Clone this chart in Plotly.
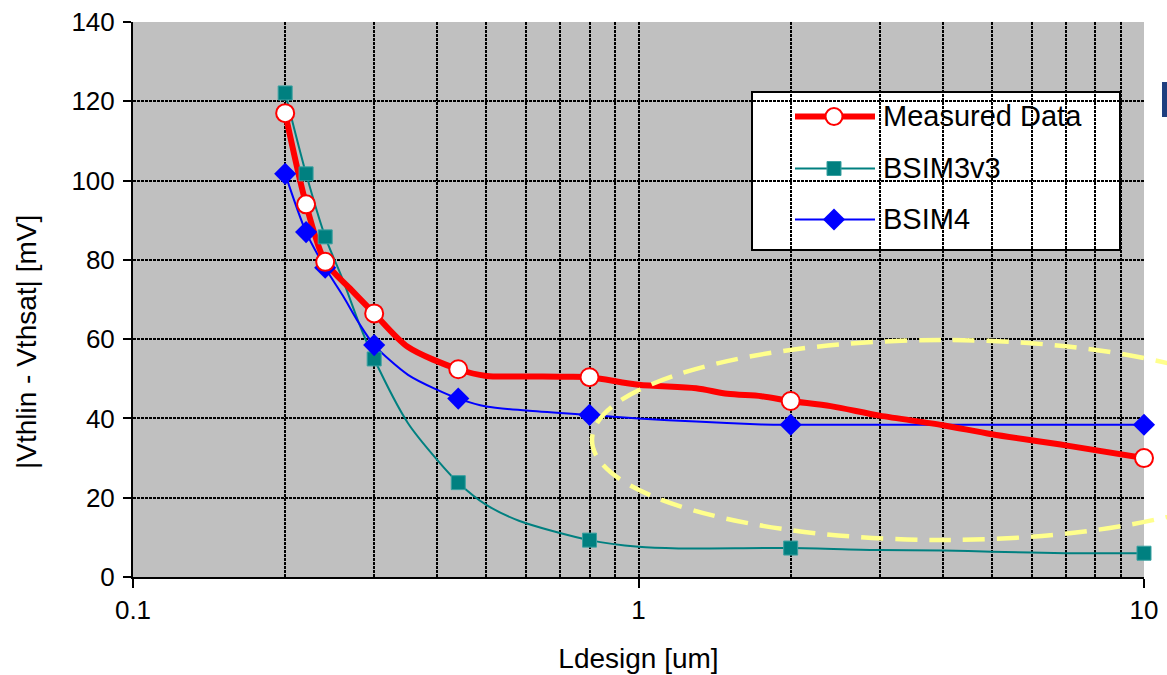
import plotly.graph_objects as go

# ---------------- data ----------------
L_meas = [0.2, 0.22, 0.24, 0.27, 0.3, 0.35, 0.44, 0.5, 0.6, 0.7, 0.8, 1.0, 1.3, 1.5,
          1.75, 2, 2.4, 3, 4, 5, 7, 10]
measured = [117, 94, 79.5, 72.5, 66.5, 58, 52.4, 50.7, 50.6, 50.5, 50.4, 48.5, 47.6, 46.2,
            45.6, 44.4, 43.1, 40.7, 38.3, 36.0, 33.2, 30.0]

L_b3 = [0.2, 0.22, 0.24, 0.26, 0.28, 0.3, 0.35, 0.4, 0.44, 0.5, 0.58, 0.8, 1.0, 1.2,
        2, 3, 4, 5, 7, 10]
bsim3 = [122.1, 101.7, 85.8, 75, 64, 55, 38.8, 29.5, 23.8, 18.2, 14.2, 9.3, 7.6, 7.2,
         7.3, 6.8, 6.7, 6.4, 6.0, 6.0]

L_b4 = [0.2, 0.22, 0.24, 0.26, 0.28, 0.3, 0.35, 0.4, 0.44, 0.5, 0.6, 0.8, 1.0, 1.3,
        1.75, 2, 3, 5, 10]
bsim4 = [101.7, 87, 78, 71, 64, 58.5, 51, 47.2, 45, 43, 42, 40.9, 40.0, 39.2,
         38.5, 38.4, 38.4, 38.4, 38.4]

L_marked = [0.2, 0.22, 0.24, 0.3, 0.44, 0.8, 2, 10]

series_names = ["Measured Data", "BSIM3v3", "BSIM4"]
x_ticks = [0.1, 1, 10]
y_ticks = [0, 20, 40, 60, 80, 100, 120, 140]

FONT = "Liberation Sans, Arial, sans-serif"

# plot-area pixel frame (for the overlay used by decorations)
PX_L, PX_R, PX_T, PX_B = 133, 1144, 22, 577
W, H = 1167, 675


def px2paper(px, py):
    return (px - PX_L) / (PX_R - PX_L), (PX_B - py) / (PX_B - PX_T)


def pick(xs, ys):
    mx = [x for x in xs if x in L_marked]
    my = [y for x, y in zip(xs, ys) if x in L_marked]
    return mx, my


RED, TEAL, BLUE = "#FF0000", "#008080", "#0000FF"

styles = {
    "Measured Data": dict(color=RED, width=6, symbol="circle", size=18,
                          mcolor="white", mline=dict(color=RED, width=2)),
    "BSIM3v3": dict(color=TEAL, width=2, symbol="square", size=14,
                    mcolor=TEAL, mline=dict(color="#3AA0A0", width=1)),
    "BSIM4": dict(color=BLUE, width=2, symbol="diamond", size=17,
                  mcolor=BLUE, mline=dict(color=BLUE, width=0)),
}

fig = go.Figure()
for name, xs, ys in [("BSIM3v3", L_b3, bsim3), ("BSIM4", L_b4, bsim4),
                     ("Measured Data", L_meas, measured)]:
    st = styles[name]
    fig.add_trace(go.Scatter(x=xs, y=ys, mode="lines", showlegend=False,
                             line=dict(color=st["color"], width=st["width"],
                                       shape="spline", smoothing=0.8),
                             hoverinfo="skip"))
for name, xs, ys in [("BSIM3v3", L_b3, bsim3), ("BSIM4", L_b4, bsim4),
                     ("Measured Data", L_meas, measured)]:
    st = styles[name]
    mx, my = pick(xs, ys)
    fig.add_trace(go.Scatter(x=mx, y=my, mode="markers", name=name, showlegend=False,
                             marker=dict(symbol=st["symbol"], size=st["size"],
                                         color=st["mcolor"], line=st["mline"]),
                             cliponaxis=False))

# ---- custom legend drawn on a pixel overlay axis ----
leg_rows = [116.5, 168.5, 219.5]
for name, yy in zip(series_names, leg_rows):
    st = styles[name]
    fig.add_trace(go.Scatter(x=[795, 875], y=[yy, yy], mode="lines", xaxis="x2", yaxis="y2",
                             showlegend=False, hoverinfo="skip",
                             line=dict(color=st["color"], width=st["width"])))
    fig.add_trace(go.Scatter(x=[834], y=[yy], mode="markers", xaxis="x2", yaxis="y2",
                             showlegend=False, hoverinfo="skip",
                             marker=dict(symbol=st["symbol"], size=min(st["size"], 17),
                                         color=st["mcolor"], line=st["mline"])))

shapes = []
# legend box
bx0, by0 = px2paper(752, 250)
bx1, by1 = px2paper(1120, 92)
shapes.append(dict(type="rect", xref="paper", yref="paper", x0=bx0, y0=by0, x1=bx1, y1=by1,
                   fillcolor="white", line=dict(color="black", width=2), layer="between"))
# yellow dashed ellipse
ex0, ey0 = px2paper(592, 540)
ex1, ey1 = px2paper(1294, 340)
shapes.append(dict(type="circle", xref="paper", yref="paper", x0=ex0, y0=ey0, x1=ex1, y1=ey1,
                   line=dict(color="#FFFF8C", width=4.5, dash="22px,12px"), layer="above"))
# small dark-blue fragment at the top-right edge
fx0, fy0 = px2paper(1162, 117)
fx1, fy1 = px2paper(1168, 82)
shapes.append(dict(type="rect", xref="paper", yref="paper", x0=fx0, y0=fy0, x1=fx1, y1=fy1,
                   fillcolor="#1F3F7F", line=dict(width=0), layer="above"))

annotations = []
for name, yy in zip(series_names, leg_rows):
    annotations.append(dict(x=881, y=yy - 1, xref="x2", yref="y2", text=name, showarrow=False,
                            xanchor="left", yanchor="middle",
                            font=dict(family=FONT, size=29, color="black")))
tx, ty = px2paper(26, 342)
annotations.append(dict(x=tx, y=ty, xref="paper", yref="paper", text="|Vthlin - Vthsat| [mV]",
                        textangle=-90, showarrow=False, xanchor="center", yanchor="middle",
                        font=dict(family=FONT, size=28, color="black")))

minor_vals = [k * 10 ** e for e in (-1, 0) for k in range(2, 10)]
GRID = dict(gridcolor="black", gridwidth=2, griddash="3px,1px")

fig.update_layout(
    width=W, height=H,
    margin=dict(l=PX_L, r=W - PX_R, t=PX_T, b=H - PX_B, autoexpand=False),
    paper_bgcolor="white", plot_bgcolor="#C0C0C0",
    font=dict(family=FONT, color="black"),
    showlegend=False,
    xaxis=dict(type="log", range=[-1, 1], tickvals=x_ticks, ticktext=[str(v) for v in x_ticks],
               showgrid=True, **GRID, automargin=False,
               minor=dict(tickmode="array", tickvals=minor_vals, showgrid=True, **GRID),
               showline=True, linecolor="black", linewidth=2,
               ticks="outside", ticklen=9, tickwidth=2, tickcolor="black",
               tickfont=dict(size=26), zeroline=False,
               title=dict(text="Ldesign [um]", font=dict(size=28), standoff=24)),
    yaxis=dict(range=[0, 140], tickvals=y_ticks, showgrid=True, **GRID, automargin=False,
               showline=True, linecolor="black", linewidth=2,
               ticks="outside", ticklen=8, tickwidth=2, tickcolor="black",
               tickfont=dict(size=26), zeroline=False, ticklabelstandoff=3),
    xaxis2=dict(overlaying="x", range=[PX_L, PX_R], visible=False, anchor="y2"),
    yaxis2=dict(overlaying="y", range=[PX_B, PX_T], visible=False, anchor="x2"),
    shapes=shapes, annotations=annotations,
)

fig.write_html("out.html")
